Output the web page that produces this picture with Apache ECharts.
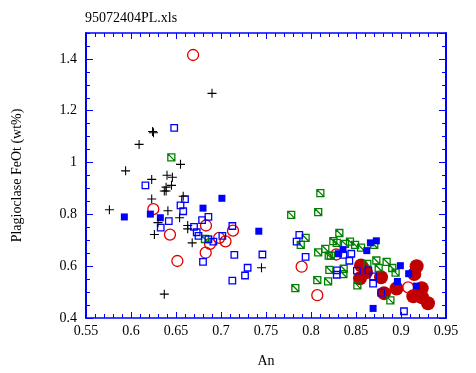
<!DOCTYPE html>
<html>
<head>
<meta charset="utf-8">
<script src="https://cdn.jsdelivr.net/npm/echarts@6/dist/echarts.min.js"></script>
<style>html,body{margin:0;padding:0;background:#fff}#c{width:476px;height:373px}</style>
</head>
<body>
<div id="c"></div>
<script>
var title = '95072404PL.xls';
var xName = 'An';
var yName = 'Plagioclase FeOt (wt%)';

var crossAn = [0.690,0.624,0.625,0.609,0.655,0.594,0.623,0.640,0.646,0.645,0.639,0.637,0.639,0.658,0.623,0.576,0.641,0.654,0.630,0.663,0.663,0.626,0.668,0.637,0.745];
var crossFe = [1.267,1.120,1.115,1.070,0.993,0.968,0.935,0.951,0.943,0.912,0.905,0.890,0.890,0.870,0.859,0.818,0.814,0.787,0.768,0.757,0.744,0.722,0.690,0.492,0.594];

var blueOpenAn = [0.648,0.616,0.660,0.655,0.658,0.642,0.633,0.670,0.679,0.686,0.7126,0.673,0.675,0.686,0.6915,0.7015,0.7148,0.7296,0.7267,0.7126,0.680,0.746,0.787,0.784,0.794,0.829,0.8286,0.8448,0.8426,0.851,0.8637,0.869,0.869,0.878,0.9033,0.836];
var blueOpenFe = [1.134,0.912,0.859,0.835,0.812,0.774,0.749,0.752,0.778,0.790,0.755,0.731,0.717,0.704,0.695,0.717,0.644,0.594,0.564,0.544,0.617,0.645,0.721,0.695,0.636,0.584,0.567,0.648,0.621,0.583,0.584,0.561,0.533,0.498,0.426,0.644];

var blueFillAn = [0.5926,0.6215,0.6326,0.680,0.701,0.742,0.8356,0.8304,0.866,0.8726,0.862,0.8993,0.9085,0.896,0.917,0.869];
var blueFillFe = [0.790,0.801,0.787,0.824,0.862,0.735,0.664,0.648,0.690,0.698,0.660,0.602,0.571,0.541,0.523,0.437];

var redOpenAn = [0.669,0.6248,0.6433,0.6833,0.7133,0.698,0.705,0.683,0.6515,0.6878,0.7896,0.807,0.828,0.908];
var redOpenFe = [1.415,0.820,0.722,0.757,0.737,0.709,0.696,0.652,0.620,0.686,0.598,0.488,0.645,0.518];

var redFillAn = [0.8556,0.8611,0.8544,0.8778,0.8811,0.895,0.9174,0.9148,0.9137,0.923,0.9233,0.930];
var redFillFe = [0.603,0.576,0.553,0.557,0.496,0.514,0.600,0.570,0.484,0.515,0.480,0.457];

var greenAn = [0.6448,0.6822,0.8104,0.808,0.778,0.794,0.7886,0.808,0.8159,0.8197,0.822,0.8248,0.8286,0.8204,0.807,0.819,0.7826,0.8315,0.8378,0.8433,0.849,0.8556,0.8703,0.8363,0.836,0.8515,0.8626,0.8726,0.8752,0.884,0.8903,0.894,0.8882];
var greenFe = [1.020,0.705,0.882,0.809,0.798,0.709,0.682,0.653,0.667,0.641,0.641,0.697,0.690,0.586,0.546,0.541,0.515,0.728,0.686,0.695,0.682,0.672,0.682,0.590,0.569,0.526,0.609,0.622,0.593,0.617,0.593,0.575,0.468];

function pts(a, b) { return a.map(function (v, i) { return [v, b[i]]; }); }

var FONT = 'Liberation Serif';
var BLUE = '#0000ff';

function xAx(pos, labels) {
  return {
    type: 'value', position: pos, min: 0.55, max: 0.95, interval: 0.05,
    name: labels ? xName : '', nameLocation: 'middle', nameGap: 36,
    nameTextStyle: { fontFamily: FONT, fontSize: 14, color: '#000' },
    axisLine: { show: true, onZero: false, lineStyle: { color: BLUE, width: 1.5 } },
    axisTick: { show: true, inside: true, length: 6, lineStyle: { color: BLUE, width: 1 } },
    minorTick: { show: true, splitNumber: 5, length: 4, lineStyle: { color: BLUE, width: 1 } },
    axisLabel: { show: labels, fontFamily: FONT, fontSize: 14, color: '#000', margin: 6 },
    splitLine: { show: false }, minorSplitLine: { show: false }
  };
}
function yAx(pos, labels, major) {
  return {
    type: 'value', position: pos, min: 0.4, max: 1.5, interval: major ? 0.2 : 0.05,
    name: labels ? yName : '', nameLocation: 'middle', nameGap: 62,
    nameTextStyle: { fontFamily: FONT, fontSize: 14, color: '#000' },
    axisLine: { show: major, onZero: false, lineStyle: { color: BLUE, width: 2 } },
    axisTick: { show: true, inside: true, length: major ? 7 : 4, lineStyle: { color: BLUE, width: 1 } },
    axisLabel: { show: labels, showMaxLabel: false, fontFamily: FONT, fontSize: 14, color: '#000', margin: 9 },
    splitLine: { show: false }
  };
}

var crossPath = 'path://M4.4,0H5.6V4.4H10V5.6H5.6V10H4.4V5.6H0V4.4H4.4Z';
var hatchPath = 'path://M0,0H10V10H0Z M0,0L10,10';

var option = {
  animation: false,
  backgroundColor: '#fff',
  title: { text: title, left: 80, top: 6, textStyle: { fontFamily: FONT, fontSize: 14, fontWeight: 'normal', color: '#000' } },
  grid: { left: 86, top: 33, right: 30, bottom: 54, containLabel: false },
  xAxis: [xAx('bottom', true), xAx('top', false)],
  yAxis: [yAx('left', true, true), yAx('left', false, false), yAx('right', false, true), yAx('right', false, false)],
  series: [
    { type: 'scatter', data: pts(redFillAn, redFillFe), symbol: 'circle', symbolSize: 14,
      itemStyle: { color: '#c00000', opacity: 1 } },
    { type: 'scatter', data: pts(redOpenAn, redOpenFe), symbol: 'circle', symbolSize: 11,
      itemStyle: { color: 'transparent', borderColor: '#e00000', borderWidth: 1.3, opacity: 1 } },
    { type: 'scatter', data: pts(greenAn, greenFe), symbol: hatchPath, symbolSize: 7,
      itemStyle: { color: 'transparent', borderColor: '#008000', borderWidth: 1.3, opacity: 1 } },
    { type: 'scatter', data: pts(blueFillAn, blueFillFe), symbol: 'rect', symbolSize: 7,
      itemStyle: { color: BLUE, opacity: 1 } },
    { type: 'scatter', data: pts(blueOpenAn, blueOpenFe), symbol: 'rect', symbolSize: 6.5,
      itemStyle: { color: 'transparent', borderColor: BLUE, borderWidth: 1.3, opacity: 1 } },
    { type: 'scatter', data: pts(crossAn, crossFe), symbol: crossPath, symbolSize: 9,
      itemStyle: { color: '#000', opacity: 1 } }
  ]
};
var chart = echarts.init(document.getElementById('c'), null, { renderer: 'canvas' });
chart.setOption(option);
</script>
</body>
</html>
